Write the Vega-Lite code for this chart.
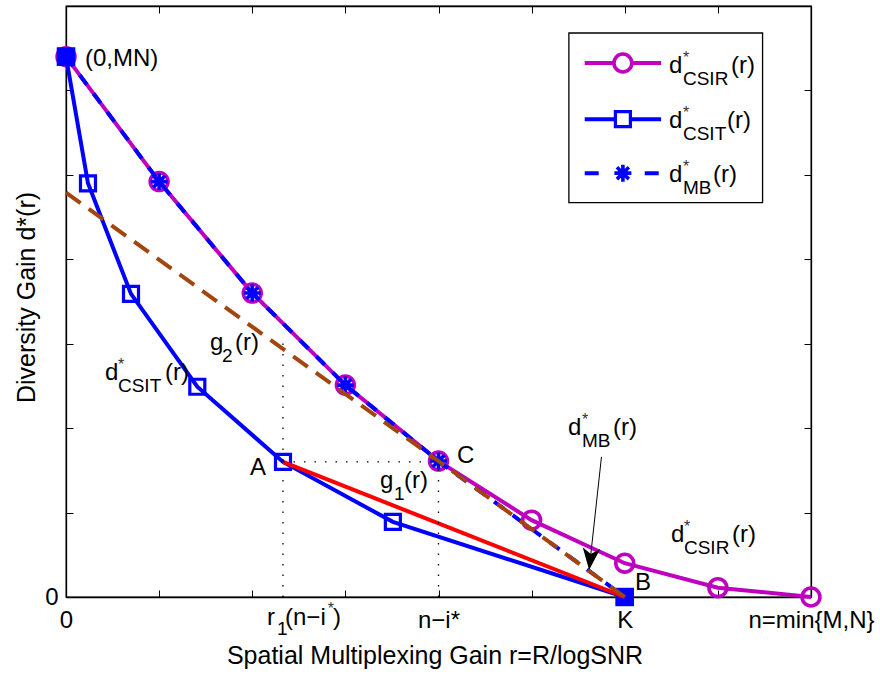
{
  "$schema": "https://vega.github.io/schema/vega-lite/v6.json",
  "width": 745,
  "height": 591,
  "autosize": {"type": "none"},
  "padding": {"left": 66, "top": 6, "right": 69, "bottom": 78},
  "background": "white",
  "config": {
    "view": {"stroke": "black", "strokeWidth": 1.3},
    "font": "Liberation Sans"
  },
  "datasets": {
    "csir": [
      {"x": 0, "y": 6.4}, {"x": 1, "y": 4.92}, {"x": 2, "y": 3.6}, {"x": 3, "y": 2.51},
      {"x": 4, "y": 1.61}, {"x": 5, "y": 0.91}, {"x": 6, "y": 0.4}, {"x": 7, "y": 0.11}, {"x": 8, "y": 0}
    ],
    "csit": [
      {"x": 0, "y": 6.4}, {"x": 0.236, "y": 4.9}, {"x": 0.698, "y": 3.59}, {"x": 1.41, "y": 2.49},
      {"x": 2.33, "y": 1.6}, {"x": 3.51, "y": 0.89}, {"x": 6, "y": 0}
    ],
    "mb": [
      {"x": 0, "y": 6.4}, {"x": 1, "y": 4.92}, {"x": 2, "y": 3.6}, {"x": 3, "y": 2.51},
      {"x": 4, "y": 1.61}, {"x": 6, "y": 0}
    ],
    "ends": [{"x": 0, "y": 6.4}, {"x": 6, "y": 0}],
    "red": [{"x": 2.33, "y": 1.6}, {"x": 6, "y": 0}],
    "brown": [{"x": 0, "y": 4.79}, {"x": 4, "y": 1.61}, {"x": 6, "y": 0}],
    "dotted": [
      {"x": 2.33, "y": 0, "x2": 2.33, "y2": 3.05},
      {"x": 2.33, "y": 1.6, "x2": 4, "y2": 1.6},
      {"x": 4, "y": 0, "x2": 4, "y2": 1.61}
    ],
    "arrowLine": [{"x": 5.75, "y": 1.66, "x2": 5.63, "y2": 0.45}],
    "arrowHead": [{"x": 5.63, "y": 0.45}],
    "legendBox": [{"x": 5.4, "x2": 7.48, "y": 6.68, "y2": 4.67}],
    "mainText": [
      {"x": 0.204, "y": 6.289, "t": "(0,MN)"},
      {"x": 1.546, "y": 2.925, "t": "g"},
      {"x": 1.815, "y": 2.925, "t": "(r)"},
      {"x": 0.419, "y": 2.57, "t": "d"},
      {"x": 1.063, "y": 2.57, "t": "(r)"},
      {"x": 1.976, "y": 1.445, "t": "A"},
      {"x": 4.199, "y": 1.587, "t": "C"},
      {"x": 3.372, "y": 1.291, "t": "g"},
      {"x": 3.63, "y": 1.291, "t": "(r)"},
      {"x": 5.391, "y": 1.919, "t": "d"},
      {"x": 5.874, "y": 1.919, "t": "(r)"},
      {"x": 6.11, "y": 0.083, "t": "B"},
      {"x": 6.497, "y": 0.651, "t": "d"},
      {"x": 7.152, "y": 0.651, "t": "(r)"},
      {"x": 6.475, "y": 6.206, "t": "d"},
      {"x": 7.141, "y": 6.206, "t": "(r)"},
      {"x": 6.475, "y": 5.555, "t": "d"},
      {"x": 7.098, "y": 5.555, "t": "(r)"},
      {"x": 6.475, "y": 4.915, "t": "d"},
      {"x": 6.948, "y": 4.915, "t": "(r)"},
      {"x": 2.158, "y": -0.33, "t": "r"},
      {"x": 2.352, "y": -0.33, "t": "(n−i"},
      {"x": 2.867, "y": -0.33, "t": ")"}
    ],
    "subText": [
      {"x": 1.675, "y": 2.783, "t": "2"},
      {"x": 0.558, "y": 2.428, "t": "CSIT"},
      {"x": 3.522, "y": 1.149, "t": "1"},
      {"x": 5.541, "y": 1.777, "t": "MB"},
      {"x": 6.636, "y": 0.509, "t": "CSIR"},
      {"x": 6.625, "y": 6.064, "t": "CSIR"},
      {"x": 6.625, "y": 5.413, "t": "CSIT"},
      {"x": 6.625, "y": 4.773, "t": "MB"},
      {"x": 2.266, "y": -0.45, "t": "1"}
    ],
    "supText": [
      {"x": 0.558, "y": 2.689, "t": "*"},
      {"x": 5.541, "y": 2.037, "t": "*"},
      {"x": 6.636, "y": 0.77, "t": "*"},
      {"x": 6.625, "y": 6.325, "t": "*"},
      {"x": 6.625, "y": 5.673, "t": "*"},
      {"x": 6.625, "y": 5.034, "t": "*"},
      {"x": 2.81, "y": -0.2, "t": "*"}
    ]
  },
  "encoding": {
    "x": {"field": "x", "type": "quantitative", "scale": {"domain": [0, 8], "nice": false, "zero": false}, "axis": null},
    "y": {"field": "y", "type": "quantitative", "scale": {"domain": [0, 7], "nice": false, "zero": false}, "axis": null}
  },
  "layer": [
    {
      "data": {"name": "csir"},
      "mark": {"type": "line", "color": "#bf00bf", "strokeWidth": 4},
      "encoding": {
        "x": {"field": "x", "type": "quantitative", "scale": {"domain": [0, 8], "nice": false, "zero": false},
          "axis": {"orient": "bottom", "values": [0, 1, 2, 3, 4, 5, 6, 7, 8],
            "labelExpr": "datum.value == 0 ? '0' : datum.value == 4 ? 'n−i*' : datum.value == 6 ? 'K' : datum.value == 8 ? 'n=min{M,N}' : ''",
            "grid": false, "tickSize": -7, "tickColor": "black", "tickWidth": 1, "domainColor": "black", "domainWidth": 1.3,
            "labelPadding": 18, "labelFontSize": 24, "labelFont": "Liberation Sans", "labelColor": "black",
            "labelFlush": false, "labelOverlap": false, "labelBound": false,
            "title": "Spatial Multiplexing Gain r=R/logSNR", "titleFontSize": 25, "titleFont": "Liberation Sans",
            "titleFontWeight": "normal", "titleColor": "black", "titleX": 368.5, "titleY": 66, "titleBaseline": "alphabetic", "titleAlign": "center"}},
        "y": {"field": "y", "type": "quantitative", "scale": {"domain": [0, 7], "nice": false, "zero": false},
          "axis": {"orient": "left", "values": [0, 1, 2, 3, 4, 5, 6, 7],
            "labelExpr": "datum.value == 0 ? '0' : ''",
            "grid": false, "tickSize": -7, "tickColor": "black", "tickWidth": 1, "domainColor": "black", "domainWidth": 1.3,
            "labelPadding": 15, "labelFontSize": 24, "labelFont": "Liberation Sans", "labelColor": "black",
            "labelFlush": false, "labelOverlap": false, "labelBound": false,
            "title": "Diversity Gain d*(r)", "titleFontSize": 25, "titleFont": "Liberation Sans",
            "titleFontWeight": "normal", "titleColor": "black", "titleX": -40, "titleY": 291, "titleBaseline": "middle", "titleAlign": "center", "titleAngle": -90}}
      }
    },
    {
      "data": {"name": "csir"},
      "mark": {"type": "point", "shape": "circle", "size": 320, "filled": false, "stroke": "#bf00bf", "strokeWidth": 3.6, "opacity": 1}
    },
    {
      "data": {"name": "csit"},
      "mark": {"type": "line", "color": "#0000ff", "strokeWidth": 4}
    },
    {
      "data": {"name": "csit"},
      "mark": {"type": "point", "shape": "square", "size": 225, "filled": false, "stroke": "#0000ff", "strokeWidth": 3.2, "opacity": 1}
    },
    {
      "data": {"name": "mb"},
      "mark": {"type": "line", "color": "#0000ff", "strokeWidth": 4, "strokeDash": [12, 11]}
    },
    {
      "data": {"name": "mb"},
      "transform": [{"filter": "datum.x <= 4"}],
      "mark": {"type": "point", "shape": "M0,-1L0,1M-1,0L1,0M-0.7,-0.7L0.7,0.7M-0.7,0.7L0.7,-0.7", "size": 289, "filled": false, "stroke": "#0000ff", "strokeWidth": 3.6, "opacity": 1}
    },
    {
      "data": {"name": "ends"},
      "mark": {"type": "point", "shape": "square", "size": 340, "filled": true, "fill": "#0000ff", "opacity": 1}
    },
    {
      "data": {"name": "red"},
      "mark": {"type": "line", "color": "#ff0000", "strokeWidth": 4}
    },
    {
      "data": {"name": "brown"},
      "mark": {"type": "line", "color": "#a3460d", "strokeWidth": 4, "strokeDash": [18, 10]}
    },
    {
      "data": {"name": "dotted"},
      "mark": {"type": "rule", "color": "black", "strokeWidth": 1.3, "strokeDash": [1.5, 9]},
      "encoding": {"x2": {"field": "x2"}, "y2": {"field": "y2"}}
    },
    {
      "data": {"name": "arrowLine"},
      "mark": {"type": "rule", "color": "black", "strokeWidth": 1},
      "encoding": {"x2": {"field": "x2"}, "y2": {"field": "y2"}}
    },
    {
      "data": {"name": "arrowHead"},
      "mark": {"type": "point", "shape": "M0,1L-0.8,-1L0,-0.45L0.8,-1Z", "size": 484, "filled": true, "fill": "black", "angle": 6, "opacity": 1}
    },
    {
      "data": {"name": "legendBox"},
      "mark": {"type": "rect", "fill": "white", "stroke": "black", "strokeWidth": 1.3},
      "encoding": {
        "x": {"field": "x", "type": "quantitative", "scale": {"domain": [0, 8], "nice": false, "zero": false},
          "axis": {"orient": "top", "values": [0, 1, 2, 3, 4, 5, 6, 7, 8], "labels": false, "grid": false, "tickSize": -7,
            "tickColor": "black", "tickWidth": 1, "domainColor": "black", "domainWidth": 1.3, "title": null}},
        "y": {"field": "y", "type": "quantitative", "scale": {"domain": [0, 7], "nice": false, "zero": false},
          "axis": {"orient": "right", "values": [0, 1, 2, 3, 4, 5, 6, 7], "labels": false, "grid": false, "tickSize": -7,
            "tickColor": "black", "tickWidth": 1, "domainColor": "black", "domainWidth": 1.3, "title": null}},
        "x2": {"field": "x2"},
        "y2": {"field": "y2"}
      }
    },
    {
      "data": {"values": [{"x": 5.57, "x2": 6.39, "y": 6.325}]},
      "mark": {"type": "rule", "color": "#bf00bf", "strokeWidth": 4},
      "encoding": {"x2": {"field": "x2"}}
    },
    {
      "data": {"values": [{"x": 5.57, "x2": 6.39, "y": 5.66}]},
      "mark": {"type": "rule", "color": "#0000ff", "strokeWidth": 4},
      "encoding": {"x2": {"field": "x2"}}
    },
    {
      "data": {"values": [{"x": 5.57, "x2": 6.39, "y": 5.02}]},
      "mark": {"type": "rule", "color": "#0000ff", "strokeWidth": 4, "strokeDash": [14, 46]},
      "encoding": {"x2": {"field": "x2"}}
    },
    {
      "data": {"values": [{"x": 5.98, "y": 6.325}]},
      "mark": {"type": "point", "shape": "circle", "size": 320, "filled": true, "fill": "white", "stroke": "#bf00bf", "strokeWidth": 3.6, "opacity": 1}
    },
    {
      "data": {"values": [{"x": 5.98, "y": 5.66}]},
      "mark": {"type": "point", "shape": "square", "size": 225, "filled": true, "fill": "white", "stroke": "#0000ff", "strokeWidth": 3.2, "opacity": 1}
    },
    {
      "data": {"values": [{"x": 5.98, "y": 5.02}]},
      "mark": {"type": "point", "shape": "M0,-1L0,1M-1,0L1,0M-0.7,-0.7L0.7,0.7M-0.7,0.7L0.7,-0.7", "size": 289, "filled": false, "stroke": "#0000ff", "strokeWidth": 3.6, "opacity": 1}
    },
    {
      "data": {"name": "mainText"},
      "mark": {"type": "text", "align": "left", "baseline": "alphabetic", "font": "Liberation Sans", "fontSize": 24, "color": "black"},
      "encoding": {"text": {"field": "t"}}
    },
    {
      "data": {"name": "subText"},
      "mark": {"type": "text", "align": "left", "baseline": "alphabetic", "font": "Liberation Sans", "fontSize": 19, "color": "black"},
      "encoding": {"text": {"field": "t"}}
    },
    {
      "data": {"name": "supText"},
      "mark": {"type": "text", "align": "left", "baseline": "alphabetic", "font": "Liberation Sans", "fontSize": 16, "color": "#333333"},
      "encoding": {"text": {"field": "t"}}
    }
  ],
  "resolve": {"axis": {"x": "independent", "y": "independent"}}
}
